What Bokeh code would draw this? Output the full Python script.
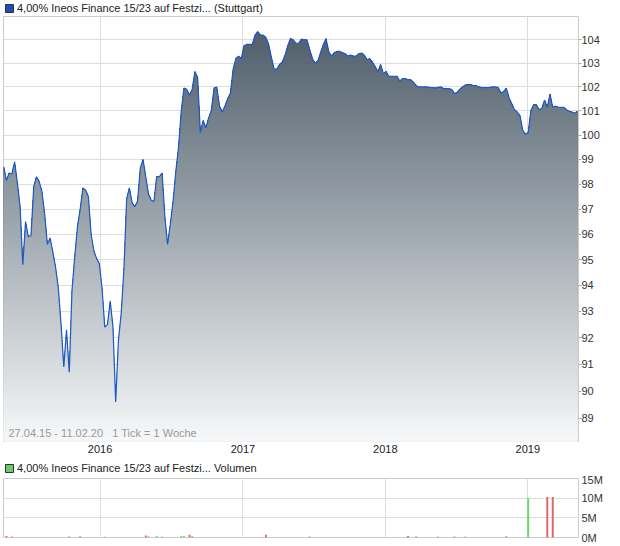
import numpy as np
from bokeh.plotting import figure
from bokeh.layouts import column
from bokeh.models import (Range1d, FixedTicker, PrintfTickFormatter, DatetimeTickFormatter,
                          Legend, LegendItem, Label, Grid)
from bokeh.embed import file_html
from bokeh.resources import INLINE

# ---------------- data ----------------
start_date = "2015-04-29"          # first weekly tick
range_start = "2015-04-28T12:00"
range_end = "2019-05-11"

prices = [
    98.7, 98.15, 98.45, 98.4, 98.9, 98.05, 97.1, 94.8, 96.5, 95.9,
    95.95, 97.9, 98.3, 98.1, 97.7, 96.8, 95.6, 95.85, 95.3, 94.7,
    93.9, 92.5, 90.9, 92.3, 90.7, 93.8, 95.1, 96.3, 97.0, 97.85,
    97.75, 97.5, 96.0, 95.35, 95.05, 94.85, 93.9, 92.4, 92.5, 93.4,
    92.4, 89.6, 91.9, 92.9, 94.6, 97.4, 97.85, 97.25, 97.1, 97.3,
    98.65, 99.0, 98.3, 97.6, 97.35, 97.3, 98.3, 98.3, 98.45, 96.7,
    95.6, 96.4, 97.3, 98.5, 99.5, 101.0, 101.95, 101.9, 101.65, 101.9,
    102.65, 102.4, 100.1, 100.6, 100.3, 100.7, 101.0, 101.95, 102.0, 101.2,
    100.95, 101.2, 101.5, 101.75, 102.75, 103.2, 103.3, 103.2, 103.75, 103.8,
    103.8, 103.8, 104.2, 104.35, 104.2, 104.2, 104.1, 103.8, 103.25, 102.75,
    102.75, 102.95, 103.05, 103.35, 103.75, 104.05, 104.0, 103.85, 103.85, 104.03,
    104.0, 104.0, 103.6, 103.2, 103.0, 103.1, 103.45, 103.8, 104.05, 103.5,
    103.3, 103.45, 103.5, 103.5, 103.45, 103.4, 103.3, 103.35, 103.3, 103.3,
    103.4, 103.43, 103.35, 103.15, 103.2, 103.05, 102.85, 102.65, 102.95, 102.55,
    102.65, 102.45, 102.45, 102.45, 102.45, 102.25, 102.35, 102.35, 102.3, 102.3,
    102.2, 102.05, 102.0, 102.0, 102.0, 102.0, 101.97, 101.97, 101.95, 101.98,
    102.0, 101.93, 101.93, 101.92, 101.9, 101.72, 101.77, 101.9, 102.0, 102.08,
    102.1, 102.1, 102.05, 102.05, 102.0, 101.97, 101.97, 101.97, 101.98, 102.0,
    102.0, 101.97, 101.75, 101.8, 101.95, 101.55, 101.3, 101.05, 100.95, 100.8,
    100.2, 100.03, 100.1, 101.0, 101.25, 101.25, 101.05, 101.1, 101.45, 101.15,
    101.7, 101.15, 101.2, 101.15, 101.15, 101.15, 101.05, 100.98, 100.95, 100.9,
    100.97,
]

vol_weeks = [1, 3, 24, 28, 37, 44, 45, 52, 53, 56, 58, 65, 66, 68, 69,
             93, 96, 101, 112, 124, 148, 151, 159, 165, 169, 184, 192, 199, 201]
vol_values = [0.4, 0.25, 0.25, 0.4, 0.2, 0.15, 0.15, 0.5, 0.25, 0.4, 0.25, 0.4, 0.4, 0.7, 0.4,
              0.15, 0.7, 0.15, 0.25, 0.05, 0.4, 0.25, 0.25, 0.25, 0.25, 0.4, 10.0, 10.3, 10.3]
vol_dir = ["down", "down", "down", "up", "down", "up", "up", "down", "down", "up", "up", "up", "up", "down", "up",
           "up", "down", "up", "down", "flat", "down", "down", "up", "down", "up", "up", "up", "down", "down"]

year_ticks = ["2016-01-01", "2017-01-01", "2018-01-01", "2019-01-01"]
price_ticks = list(range(89, 105))
vol_ticks = [0, 5, 10, 15]

title_main = "4,00% Ineos Finance 15/23 auf Festzi... (Stuttgart)"
title_vol = "4,00% Ineos Finance 15/23 auf Festzi... Volumen"
note_text = "27.04.15 - 11.02.20\u00a0\u00a0 1 Tick = 1 Woche"

# ---------------- helpers ----------------
EPOCH = np.datetime64("1970-01-01T00:00", "ms")


def to_ms(d):
    return float((np.datetime64(d, "ms") - EPOCH) / np.timedelta64(1, "ms"))


week_ms = 7 * 24 * 3600 * 1000.0
x0 = to_ms(start_date)
x_price = x0 + np.arange(len(prices)) * week_ms
x_vol = x0 + np.array(vol_weeks) * week_ms
year_ms = [to_ms(d) for d in year_ticks]

FONT = "Liberation Sans"
GRID = "#dddddd"
OUTLINE = "#cccccc"
dir_colors = {"up": "#66dd66", "down": "#dd6666", "flat": "#aaaaaa"}

xr = Range1d(start=to_ms(range_start), end=to_ms(range_end))
ylo, yhi = 88.15, 105.0
FW = 575
LB = 3
RB = 28
W = LB + FW + RB


def title_row(height, text, swatch_color, loc):
    """A thin figure holding a legend-style title: coloured square + text."""
    t = figure(width=W, height=height, x_range=Range1d(0, 1), y_range=Range1d(0, 1),
               x_axis_location=None, y_axis_location=None,
               output_backend="svg", toolbar_location=None, min_border=0,
               outline_line_color=None, background_fill_color="white",
               border_fill_color="white")
    for g in t.grid:
        g.visible = False
    sw = t.quad(left=[5.0], right=[6.0], bottom=[5.0], top=[6.0],
                fill_color=swatch_color, line_color="#333333", line_width=1)
    leg = Legend(items=[LegendItem(label=text, renderers=[sw])],
                 location=loc, orientation="horizontal",
                 glyph_width=10, glyph_height=10, label_standoff=3, label_height=12,
                 label_width=10, padding=0, margin=0, spacing=0,
                 border_line_color=None, background_fill_alpha=0,
                 label_text_font=FONT, label_text_font_size="11px",
                 label_text_color="#222222")
    t.add_layout(leg)
    return t


# ---------------- main price chart ----------------
p = figure(frame_width=FW, frame_height=425, x_axis_type="datetime", y_axis_type="log",
           x_range=xr, y_range=Range1d(ylo, yhi), y_axis_location="right",
           output_backend="svg", toolbar_location=None,
           min_border=0, min_border_left=LB, min_border_right=RB, min_border_top=0,
           min_border_bottom=17,
           background_fill_color="white", border_fill_color="white",
           outline_line_color=OUTLINE)

p.xgrid.ticker = FixedTicker(ticks=year_ms)
p.ygrid.ticker = FixedTicker(ticks=price_ticks)
p.xgrid.grid_line_color = GRID
p.ygrid.grid_line_color = GRID

# gradient area under the price line, built from stacked layers
N = 90
edges = np.geomspace(ylo, yhi, N + 1)
top_rgb = np.array([73, 89, 102])
bot_rgb = np.array([247, 248, 249])
price_arr = np.array(prices)
for k in range(N - 1, -1, -1):
    f = 1.0 - (k + 0.5) / N
    c = (top_rgb + (bot_rgb - top_rgb) * f).round().astype(int)
    col = "#%02x%02x%02x" % tuple(c)
    p.varea(x=x_price, y1=ylo, y2=np.minimum(price_arr, edges[k + 1]),
            fill_color=col, fill_alpha=1.0)

p.line(x_price, prices, line_color="#1d58c4", line_width=1.2)

# axes
p.yaxis.ticker = FixedTicker(ticks=price_ticks)
p.yaxis.formatter = PrintfTickFormatter(format="%d")
p.yaxis.axis_line_color = None
p.yaxis.major_tick_in = 0
p.yaxis.major_tick_out = 3
p.yaxis.major_tick_line_color = "#aaaaaa"
p.yaxis.minor_tick_line_color = None
p.yaxis.minor_tick_out = 0
p.yaxis.major_label_standoff = 0
p.yaxis.major_label_text_font = FONT
p.yaxis.major_label_text_font_size = "11px"
p.yaxis.major_label_text_color = "#333333"

p.xaxis.ticker = FixedTicker(ticks=year_ms)
p.xaxis.formatter = DatetimeTickFormatter(years="%Y", months="%Y", days="%Y", hours="%Y",
                                          minutes="%Y", seconds="%Y", milliseconds="%Y")
p.xaxis.axis_line_color = None
p.xaxis.major_tick_line_color = None
p.xaxis.minor_tick_line_color = None
p.xaxis.major_tick_out = 0
p.xaxis.minor_tick_out = 0
p.xaxis.major_label_standoff = 3
p.xaxis.major_label_text_font = FONT
p.xaxis.major_label_text_font_size = "11px"
p.xaxis.major_label_text_color = "#222222"

note = Label(x=5, y=3, x_units="screen", y_units="screen", text=note_text,
             text_font=FONT, text_font_size="11px", text_color="#9a9a9a",
             text_baseline="bottom")
p.add_layout(note)

# ---------------- volume chart ----------------
v = figure(frame_width=FW, frame_height=59, x_axis_type="datetime",
           x_range=xr, y_range=Range1d(0, 15), y_axis_location="right", x_axis_location=None,
           output_backend="svg", toolbar_location=None,
           min_border=0, min_border_left=LB, min_border_right=RB, min_border_top=5,
           min_border_bottom=7,
           background_fill_color="white", border_fill_color="white",
           outline_line_color=OUTLINE)
v.add_layout(Grid(dimension=0, ticker=FixedTicker(ticks=year_ms), grid_line_color=GRID))
v.ygrid.ticker = FixedTicker(ticks=vol_ticks)
v.ygrid.grid_line_color = GRID

v.vbar(x=x_vol, top=vol_values, bottom=0, width=5 * 24 * 3600 * 1000.0,
       fill_color=[dir_colors[d] for d in vol_dir], line_color=None)

v.yaxis.ticker = FixedTicker(ticks=vol_ticks)
v.yaxis.formatter = PrintfTickFormatter(format="%dM")
v.yaxis.axis_line_color = None
v.yaxis.major_tick_line_color = None
v.yaxis.minor_tick_line_color = None
v.yaxis.major_tick_out = 0
v.yaxis.minor_tick_out = 0
v.yaxis.major_label_standoff = 3
v.yaxis.major_label_text_font = FONT
v.yaxis.major_label_text_font_size = "11px"
v.yaxis.major_label_text_color = "#333333"

t1 = title_row(16, title_main, "#1d4fb3", (1, 2))
t2 = title_row(15, title_vol, "#66cc66", (1, -1))

layout = column(t1, p, t2, v, spacing=0)
open("out.html", "w").write(file_html(layout, INLINE))
